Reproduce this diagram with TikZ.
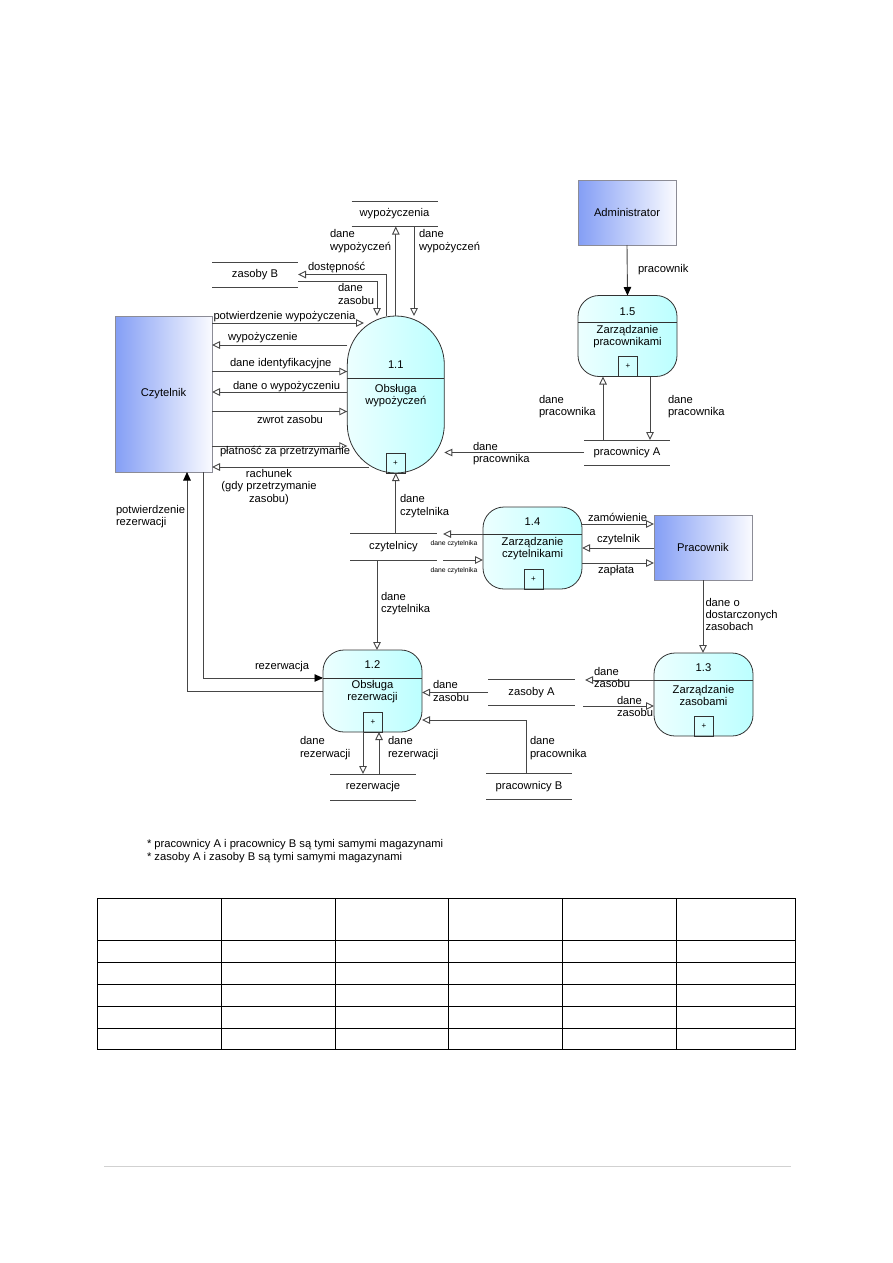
\documentclass[tikz,border=0pt]{standalone}
\usepackage{fontspec}
\setmainfont{Liberation Sans}
\usetikzlibrary{arrows.meta}
\definecolor{ln}{RGB}{70,70,70}
\definecolor{entL}{RGB}{132,158,245}
\definecolor{entR}{RGB}{250,251,255}
\definecolor{entB}{RGB}{140,140,150}
\definecolor{prL}{RGB}{236,255,255}
\definecolor{prR}{RGB}{188,255,255}
\definecolor{prB}{RGB}{50,50,50}
\begin{document}
\begin{tikzpicture}[x=1pt,y=-1pt,
  every node/.style={font=\fontsize{11.2}{12.3}\selectfont, inner sep=0pt, outer sep=0pt},
  lbl/.style={align=left, anchor=west},
  tinylbl/.style={font=\fontsize{6.8}{8}\selectfont},
  ent/.style={draw=entB, line width=0.8pt, left color=entL, right color=entR},
  proc/.style={draw=prB, line width=0.8pt, rounded corners=21pt, left color=prL, right color=prR},
  pline/.style={draw=prB, line width=0.8pt},
  plusbox/.style={draw=prB, line width=0.8pt, minimum width=19pt, minimum height=20pt, font=\fontsize{8}{9}\selectfont},
  store/.style={minimum width=86pt, minimum height=26pt},
  sline/.style={draw=ln, line width=0.9pt},
  flow/.style={draw=ln, line width=0.9pt, -{Triangle[open,length=8pt,width=7.5pt,fill=white]}},
  cflow/.style={draw=ln, line width=0.9pt, -{Triangle[length=8.5pt,width=7.5pt,color=black]}},
]
\useasboundingbox (0,0) rectangle (893,1263);

% ---------------- entities ----------------
\node[ent, minimum width=97pt, minimum height=156pt] (czyt) at (163.5,394) {Czytelnik};
\node[ent, minimum width=98pt, minimum height=65pt] (adm) at (627,212.5) {Administrator};
\node[ent, minimum width=98pt, minimum height=65pt] (prac) at (703,547.5) {Pracownik};

% ---------------- processes ----------------
% 1.1
\node[proc, rounded corners=48.5pt, minimum width=97pt, minimum height=157pt] (p11) at (395.8,394.5) {};
\draw[pline] (p11.west |- 0,378) -- (p11.east |- 0,378);
\node (p11n) at (395.8,365) {1.1};
\node[align=center] (p11t) at (395.8,395.5) {Obsługa\\wypożyczeń};
\node[plusbox] (p11p) at (395.5,463) {+};
% 1.5
\node[proc, minimum width=99pt, minimum height=81pt] (p15) at (627.5,336) {};
\draw[pline] (p15.west |- 0,322.5) -- (p15.east |- 0,322.5);
\node (p15n) at (627.5,312) {1.5};
\node[align=center] (p15t) at (627.5,336.5) {Zarządzanie\\pracownikami};
\node[plusbox] (p15p) at (628,366.5) {+};
% 1.4
\node[proc, minimum width=99pt, minimum height=82pt] (p14) at (532.5,548) {};
\draw[pline] (p14.west |- 0,534) -- (p14.east |- 0,534);
\node (p14n) at (532.5,521.5) {1.4};
\node[align=center] (p14t) at (532.5,548.5) {Zarządzanie\\czytelnikami};
\node[plusbox] (p14p) at (533.5,579.5) {+};
% 1.3
\node[proc, minimum width=99pt, minimum height=83pt] (p13) at (703.5,694.5) {};
\draw[pline] (p13.west |- 0,680) -- (p13.east |- 0,680);
\node (p13n) at (703.5,668) {1.3};
\node[align=center] (p13t) at (703.5,695.5) {Zarządzanie\\zasobami};
\node[plusbox] (p13p) at (704,726.5) {+};
% 1.2
\node[proc, minimum width=99pt, minimum height=82pt] (p12) at (372.5,691) {};
\draw[pline] (p12.west |- 0,678) -- (p12.east |- 0,678);
\node (p12n) at (372.5,665) {1.2};
\node[align=center] (p12t) at (372.5,691.5) {Obsługa\\rezerwacji};
\node[plusbox] (p12p) at (373,722) {+};

% ---------------- stores ----------------
\node[store, minimum height=25pt] (wyp) at (394.5,214) {wypożyczenia};
\draw[sline] (wyp.north west) -- (wyp.north east) (wyp.south west) -- (wyp.south east);
\node[store, minimum height=25pt] (zasB) at (255,274.5) {zasoby B};
\draw[sline] (zasB.north west) -- (zasB.north east) (zasB.south west) -- (zasB.south east);
\node[store, minimum height=25pt] (prA) at (627,452.5) {pracownicy A};
\draw[sline] (prA.north west) -- (prA.north east) (prA.south west) -- (prA.south east);
\node[store, minimum width=87pt, minimum height=27pt] (czs) at (393.5,546.5) {czytelnicy};
\draw[sline] (czs.north west) -- (czs.north east) (czs.south west) -- (czs.south east);
\node[store, minimum width=87pt, minimum height=26.5pt] (zasA) at (531.5,692.5) {zasoby A};
\draw[sline] (zasA.north west) -- (zasA.north east) (zasA.south west) -- (zasA.south east);
\node[store, minimum height=26pt] (prB) at (529,786.5) {pracownicy B};
\draw[sline] (prB.north west) -- (prB.north east) (prB.south west) -- (prB.south east);
\node[store, minimum height=26pt] (rez) at (373,787) {rezerwacje};
\draw[sline] (rez.north west) -- (rez.north east) (rez.south west) -- (rez.south east);

% ---------------- free end coordinates ----------------
\coordinate (pwTip) at (364,323);
\coordinate (rachS) at (369,467);
\coordinate (czsA) at (443,534);
\coordinate (czsB) at (443,560);
\coordinate (zasAa) at (585,680);
\coordinate (zasAb) at (583,706);

% ---------------- flows around 1.1 ----------------
\draw[flow] (p11.north) -- (p11.north |- wyp.south);
\draw[flow] (wyp.south -| 414,0) -- (p11.north -| 414,0);
\node[lbl] (l1) at (330,241) {dane\\wypożyczeń};
\node[lbl] (l2) at (419,241) {dane\\wypożyczeń};

\draw[flow] (p11.north -| 386,0) |- (zasB.east);
\node[lbl] (l3) at (308,267.5) {dostępność};
\draw[flow] (zasB.east |- 0,281) -| (p11.north -| 377,0);
\node[lbl] (l4) at (338,294) {dane\\zasobu};

\draw[flow] (czyt.east |- 0,323) -- (pwTip);
\node[lbl] (l5) at (213.5,316.5) {potwierdzenie wypożyczenia};
\draw[flow] (p11.west |- 0,345) -- (czyt.east |- 0,345);
\node[lbl] (l6) at (228,338) {wypożyczenie};
\draw[flow] (czyt.east |- 0,371.5) -- (p11.west |- 0,371.5);
\node[lbl] (l7) at (230,364) {dane identyfikacyjne};
\draw[flow] (p11.west |- 0,392) -- (czyt.east |- 0,392);
\node[lbl] (l8) at (233,387) {dane o wypożyczeniu};
\draw[flow] (czyt.east |- 0,411.5) -- (p11.west |- 0,411.5);
\node[lbl] (l9) at (257,419) {zwrot zasobu};
\draw[flow] (czyt.east |- 0,446) -- (p11.west |- 0,446);
\node[lbl] (l10) at (220,452) {płatność za przetrzymanie};
\draw[flow] (rachS) -- (czyt.east |- 0,467);
\node[align=center] (l11) at (269,487) {rachunek\\(gdy przetrzymanie\\zasobu)};

\draw[flow] (czs.north -| p11.south) -- (p11.south);
\node[lbl] (l12) at (400,506) {dane\\czytelnika};

\draw[flow] (prA.west) -- (p11.east |- prA.west);
\node[lbl] (l13) at (473,453.5) {dane\\pracownika};

% ---------------- 1.5 ----------------
\draw[cflow] (adm.south) -- (p15.north);
\node[lbl] (l14) at (638,269.5) {pracownik};
\draw[flow] (prA.north -| 603,0) -- (p15.south -| 603,0);
\draw[flow] (p15.south -| 650,0) -- (prA.north -| 650,0);
\node[lbl] (l15) at (539,406.5) {dane\\pracownika};
\node[lbl] (l16) at (668,406.5) {dane\\pracownika};

% ---------------- 1.4 ----------------
\draw[flow] (p14.west |- czsA) -- (czsA);
\node[tinylbl] (l17) at (454,543.5) {dane czytelnika};
\draw[flow] (czsB) -- (p14.west |- czsB);
\node[tinylbl] (l18) at (454,571) {dane czytelnika};
\draw[flow] (p14.east |- 0,524) -- (prac.west |- 0,524);
\node[lbl] (l19) at (588,517.5) {zamówienie};
\draw[flow] (prac.west |- 0,548) -- (p14.east |- 0,548);
\node[lbl] (l20) at (597,540) {czytelnik};
\draw[flow] (p14.east |- 0,563) -- (prac.west |- 0,563);
\node[lbl] (l21) at (598,571) {zapłata};

% ---------------- 1.3 ----------------
\draw[flow] (prac.south) -- (p13.north -| prac.south);
\node[lbl] (l22) at (705.5,614.5) {dane o\\dostarczonych\\zasobach};
\draw[flow] (p13.west |- zasAa) -- (zasAa);
\node[lbl] (l23) at (594,677.5) {dane\\zasobu};
\draw[flow] (zasAb) -- (p13.west |- zasAb);
\node[lbl] (l24) at (617,706.5) {dane\\zasobu};

% ---------------- 1.2 ----------------
\draw[flow] (czs.south -| 377,0) -- (p12.north -| 377,0);
\node[lbl] (l25) at (381,603.5) {dane\\czytelnika};
\draw[flow] (zasA.west) -- (p12.east |- zasA.west);
\node[lbl] (l26) at (433,691) {dane\\zasobu};
\draw[flow] (prB.north -| 526,0) |- (p12.east |- 0,720);
\node[lbl] (l27) at (530,748) {dane\\pracownika};
\draw[flow] (p12.south -| 363,0) -- (rez.north -| 363,0);
\draw[flow] (rez.north -| 379,0) -- (p12.south -| 379,0);
\node[lbl] (l28) at (300,748) {dane\\rezerwacji};
\node[lbl] (l29) at (388,748) {dane\\rezerwacji};

\draw[cflow] (czyt.south -| 203,0) |- (p12.west |- 0,678);
\node[lbl] (l30) at (255,666.5) {rezerwacja};
\draw[cflow] (p12.west |- 0,691) -| (czyt.south -| 187,0);
\node[lbl] (l31) at (116,516.5) {potwierdzenie\\rezerwacji};

% ---------------- notes ----------------
\node[lbl] (n1) at (147,845) {* pracownicy A i pracownicy B są tymi samymi magazynami};
\node[lbl] (n2) at (147,857.5) {* zasoby A i zasoby B są tymi samymi magazynami};

% ---------------- table ----------------
\draw[line width=1pt] (97,898) rectangle (795,1049);
\foreach \xx in {221,335,448,562,676} \draw[line width=1pt] (\xx,898) -- (\xx,1049);
\foreach \yy in {940,962,984,1006,1028} \draw[line width=1pt] (97,\yy) -- (795,\yy);

% footer line
\draw[line width=1pt, black!18] (104,1166) -- (791,1166);
\end{tikzpicture}
\end{document}
